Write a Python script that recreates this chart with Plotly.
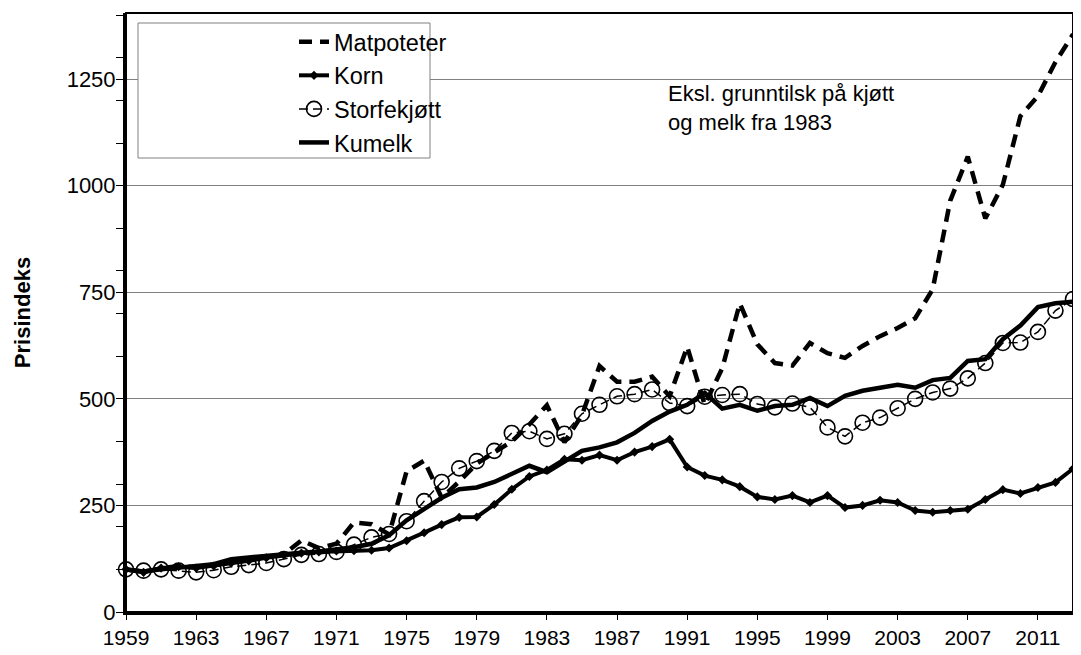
import plotly.graph_objects as go

years = list(range(1959, 2014))

matpoteter = [100, 95, 102, 108, 105, 110, 118, 124, 128, 135,
              168, 150, 160, 210, 206, 182, 330, 355, 268, 306,
              348, 375, 400, 440, 485, 398, 462, 577, 540, 540,
              552, 506, 622, 486, 572, 724, 628, 584, 578, 631,
              607, 596, 624, 647, 666, 689, 757, 965, 1068, 923,
              1002, 1163, 1210, 1290, 1355]

korn = [100, 93, 103, 106, 103, 108, 115, 120, 127, 133,
        138, 141, 143, 144, 145, 150, 167, 186, 205, 222,
        223, 252, 288, 318, 333, 358, 356, 368, 356, 375,
        388, 405, 340, 320, 310, 294, 270, 264, 273, 257,
        273, 245, 250, 262, 257, 238, 234, 238, 241, 264,
        287, 278, 292, 304, 336]

storfekjott = [100, 97, 100, 97, 93, 98, 106, 110, 115, 124,
               134, 136, 141, 158, 175, 183, 213, 260, 305, 337,
               354, 378, 420, 424, 406, 418, 465, 486, 506, 511,
               522, 490, 483, 505, 509, 511, 488, 480, 489, 480,
               433, 412, 444, 456, 478, 500, 515, 524, 548, 584,
               631, 632, 657, 707, 734]

kumelk = [100, 95, 100, 104, 106, 112, 124, 128, 133, 137,
          139, 142, 147, 152, 160, 180, 215, 240, 268, 288,
          292, 305, 325, 343, 328, 352, 378, 386, 398, 420,
          448, 470, 486, 514, 477, 486, 472, 483, 486, 502,
          483, 507, 519, 526, 533, 526, 544, 549, 589, 593,
          640, 672, 715, 724, 728]

x_ticks = list(range(1959, 2012, 4))
y_ticks = [0, 250, 500, 750, 1000, 1250]

FONT = "Liberation Sans, Arial, sans-serif"

fig = go.Figure()
fig.add_trace(go.Scatter(x=years, y=matpoteter, name="Matpoteter", mode="lines",
                         cliponaxis=False,
                         line=dict(color="black", width=4.5, dash="13px,8px")))
fig.add_trace(go.Scatter(x=years, y=korn, name="Korn", mode="lines+markers",
                         cliponaxis=False,
                         line=dict(color="black", width=4),
                         marker=dict(symbol="diamond", size=7, color="black")))
fig.add_trace(go.Scatter(x=years, y=storfekjott, name="Storfekjøtt", mode="lines+markers",
                         cliponaxis=False,
                         line=dict(color="black", width=1.5, dash="9px,5px"),
                         marker=dict(symbol="circle-open", size=15, color="black",
                                     line=dict(width=1.6, color="black"))))
fig.add_trace(go.Scatter(x=years, y=kumelk, name="Kumelk", mode="lines",
                         cliponaxis=False,
                         line=dict(color="black", width=4.5)))

# The page body has an 8px margin, so the figure is 1073x647 and page
# coordinates are shifted by 8px. Plot area on the page: x 126..1073, y 13..612.
OFF = 8
FW, FH = 1081 - OFF, 655 - OFF
L, R, T, B = 126 - OFF, FW - (1073 - OFF), 13 - OFF, FH - (612 - OFF)
W = FW - L - R
H = FH - T - B

def px(x):
    return (x - OFF - L) / W

def py(y):
    return (T + H - (y - OFF)) / H

fig.update_layout(
    width=FW, height=FH,
    margin=dict(l=L, r=R, t=T, b=B, autoexpand=False),
    paper_bgcolor="white", plot_bgcolor="white",
    showlegend=True,
    legend=dict(x=px(294), y=py(20), xanchor="left", yanchor="top",
                bgcolor="rgba(0,0,0,0)", borderwidth=0,
                font=dict(family=FONT, size=23.5, color="black"),
                tracegroupgap=0),
    font=dict(family=FONT, color="black"),
)

fig.update_xaxes(range=[1959, 2013], tickmode="array", tickvals=x_ticks,
                 ticktext=[str(v) for v in x_ticks], automargin=False,
                 ticks="outside", ticklen=5, tickwidth=1, tickcolor="black",
                 showline=True, linecolor="black", linewidth=3,
                 showgrid=False, zeroline=False,
                 tickfont=dict(family=FONT, size=21, color="black"))
fig.update_yaxes(range=[0, 1405], tickmode="array", tickvals=y_ticks,
                 ticktext=[str(v) for v in y_ticks], automargin=False,
                 ticks="outside", ticklen=7, tickwidth=1, tickcolor="black",
                 ticklabelstandoff=-4,
                 minor=dict(tickmode="linear", tick0=0, dtick=100, ticks="outside",
                            ticklen=7, tickwidth=1, tickcolor="black", showgrid=False),
                 showline=True, linecolor="black", linewidth=3,
                 showgrid=True, gridcolor="#808080", gridwidth=1, zeroline=False,
                 tickfont=dict(family=FONT, size=22, color="black"),
                 title=dict(text="<b>Prisindeks</b>",
                            font=dict(family=FONT, size=22, color="black"),
                            standoff=30))

# plot border (top/right)
fig.add_shape(type="rect", xref="paper", yref="paper", x0=0, x1=1, y0=0, y1=1,
              line=dict(color="black", width=2), layer="above")
# legend box
fig.add_shape(type="rect", xref="paper", yref="paper",
              x0=px(138), x1=px(430), y0=py(158), y1=py(23),
              line=dict(color="#808080", width=1), fillcolor="white", layer="above")

fig.add_annotation(xref="paper", yref="paper", x=px(666), y=py(79),
                   xanchor="left", yanchor="top", align="left", showarrow=False,
                   text="Eksl. grunntilsk på kjøtt<br>og melk fra 1983",
                   font=dict(family=FONT, size=22, color="black"))

fig.write_html("out.html")
